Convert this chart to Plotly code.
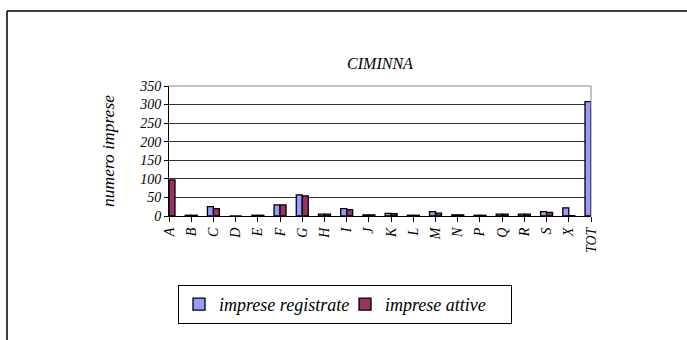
import plotly.graph_objects as go

categories = ["A", "B", "C", "D", "E", "F", "G", "H", "I", "J", "K", "L", "M", "N", "P", "Q", "R", "S", "X", "TOT"]
registrate = [95, 2, 25, 0, 2, 30, 57, 5, 20, 3, 7, 2, 12, 3, 2, 5, 5, 12, 22, 308]
attive = [97, 2, 20, 0, 2, 30, 54, 5, 17, 3, 6, 2, 8, 3, 2, 5, 5, 10, 1, 290]
y_ticks = [0, 50, 100, 150, 200, 250, 300, 350]

FONT = "Liberation Serif"
W, H = 687, 340
L, R, T, B = 169, 591, 86, 216
pw, ph = R - L, B - T

def px(x):
    return (x - L) / pw

def py(y):
    return (B - y) / ph

fig = go.Figure()
fig.add_trace(go.Bar(x=categories, y=registrate, name="<i>imprese registrate</i>",
                     marker=dict(color="#9999FF", line=dict(color="black", width=1.3))))
fig.add_trace(go.Bar(x=categories, y=attive, name="<i>imprese attive</i>",
                     marker=dict(color="#993366", line=dict(color="black", width=1.3))))

fig.update_layout(
    width=W, height=H,
    margin=dict(l=L, r=W - R, t=T, b=H - B, pad=0, autoexpand=False),
    paper_bgcolor="white", plot_bgcolor="white",
    barmode="group", bargap=0.46, bargroupgap=0,
    font=dict(family=FONT, color="black"),
    title=dict(text="<i>CIMINNA</i>", x=380 / W, xref="container", xanchor="center",
               y=1 - 63 / H, yref="container", yanchor="middle", font=dict(size=16, family=FONT)),
    showlegend=True,
    legend=dict(orientation="h", x=px(178), y=py(285), xanchor="left", yanchor="top",
                bordercolor="black", borderwidth=1, bgcolor="white",
                font=dict(size=18, family=FONT), itemwidth=30,
                entrywidth=121, entrywidthmode="pixels",
                traceorder="normal"),
    xaxis=dict(type="category", range=[0, 19], showline=True, linecolor="black", linewidth=1,
               ticks="outside", ticklen=5, tickcolor="black", tickangle=-90,
               tickfont=dict(size=14, family=FONT), showgrid=False, mirror=False,
               automargin=False, fixedrange=True),
    yaxis=dict(range=[0, 350], tickvals=y_ticks, showline=True, linecolor="black", linewidth=1,
               ticks="outside", ticklen=4, tickcolor="black",
               tickfont=dict(size=14, family=FONT), showgrid=True,
               gridcolor="#333", gridwidth=1, zeroline=False, automargin=False,
               title=dict(text="<i>numero imprese</i>", font=dict(size=17.5, family=FONT), standoff=20)),
)

# italic tick labels
fig.update_xaxes(ticktext=[f"<i>{c}</i>" for c in categories], tickvals=categories)
fig.update_yaxes(ticktext=[f"<i>{v}</i>" for v in y_ticks])

# plot-area border (top and right), light gray
fig.add_shape(type="line", xref="paper", yref="paper", x0=0, x1=1, y0=1, y1=1,
              line=dict(color="#888", width=1))
fig.add_shape(type="line", xref="paper", yref="paper", x0=1, x1=1, y0=0, y1=1,
              line=dict(color="#888", width=1))
# outer chart frame (top and left)
fig.add_shape(type="line", xref="paper", yref="paper", x0=px(7), x1=px(687), y0=py(11), y1=py(11),
              line=dict(color="black", width=1.5))
fig.add_shape(type="line", xref="paper", yref="paper", x0=px(7), x1=px(7), y0=py(11), y1=py(345),
              line=dict(color="black", width=1.5))

fig.write_html("out.html", config={"displayModeBar": False},
               post_script="document.body.style.margin='0';document.body.style.overflow='hidden';")
